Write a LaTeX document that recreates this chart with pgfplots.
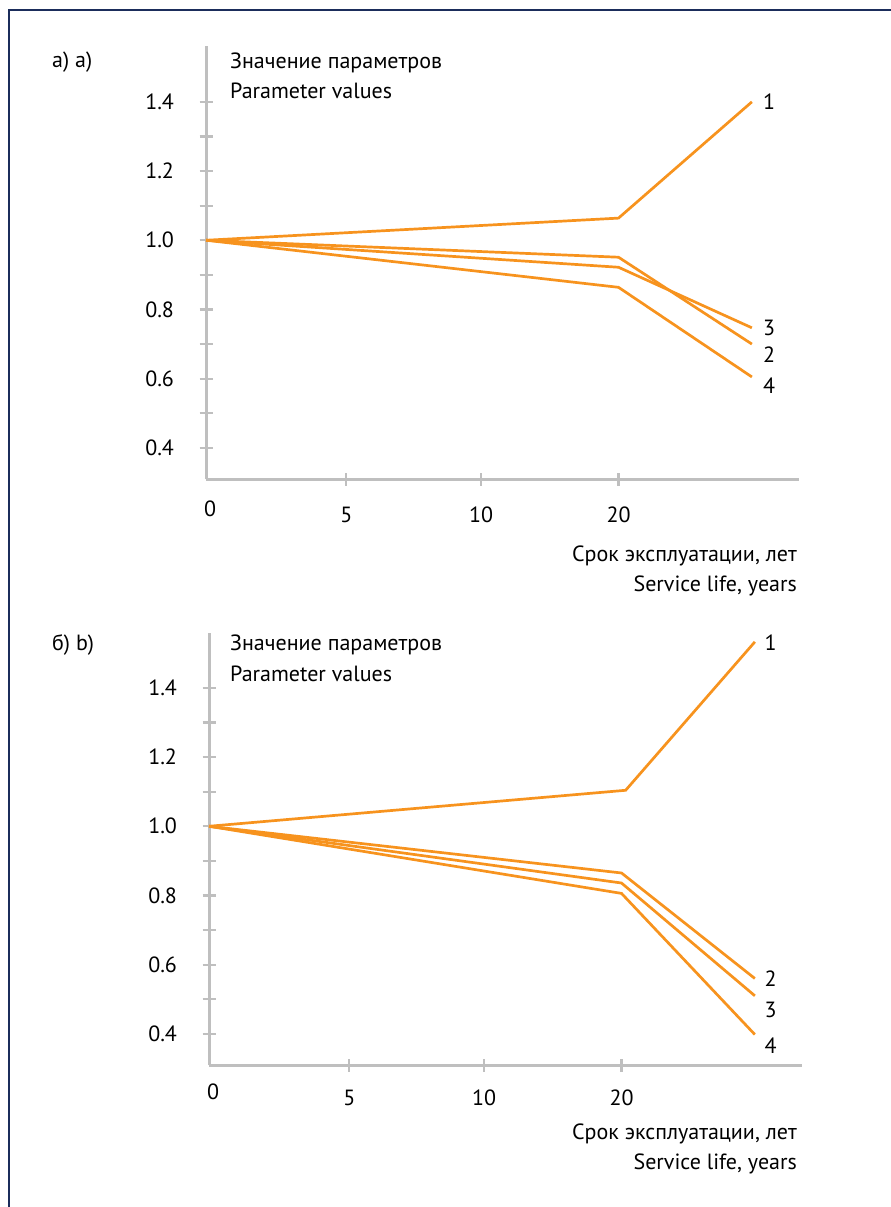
\documentclass[border=0pt]{standalone}
\usepackage{fontspec}
\setmainfont{PT Sans}
\usepackage{pgfplots}
\pgfplotsset{compat=1.18}
\definecolor{lineor}{HTML}{F7931E}
\definecolor{axgray}{HTML}{BFBFBF}
\definecolor{framecol}{HTML}{1B2D5B}
\tikzset{ser/.style={draw=lineor, line width=2.7pt, mark=none}}
\pgfplotsset{panel/.style={
  x=137.5pt, y=346pt, xmin=0, xmax=4.31, ymin=0.31, ymax=1.56,
  axis x line*=bottom, axis y line*=left,
  axis line style={axgray, line width=3pt, -},
  every tick/.style={axgray, line width=2.2pt},
  major tick length=13pt,
  tick align=center,
  xtick={1.02,2.0,3.0}, xticklabels={5,10,20},
  extra x ticks={0}, extra x tick labels={0},
  extra x tick style={major tick length=0pt, xticklabel style={xshift=4pt}},
  ytick={0.4,0.5,0.6,0.7,0.8,0.9,1.0,1.1,1.2,1.3,1.4},
  yticklabels={0.4,,0.6,,0.8,,1.0,,1.2,,1.4},
  /pgf/number format/assume math mode=true,
  tick label style={font=\fontsize{22}{26}\selectfont, text=black},
  yticklabel style={anchor=east, xshift=-22pt},
  clip=false,
}}
\begin{document}
\begin{tikzpicture}[x=1pt,y=1pt, font=\fontsize{22}{26}\selectfont]
\path[use as bounding box] (0,0) rectangle (891,-1207);
\draw[framecol, line width=1.6pt] (9,-1208) -- (9,-10) -- (892,-10);
% panel a
\begin{axis}[panel, at={(206pt,-479pt)}, anchor=south west,
  xticklabel style={anchor=north, yshift=-18pt}]
\addplot[ser] coordinates {(0,1.0) (3,1.064) (3.97,1.40)};
\addplot[ser] coordinates {(0,1.0) (3,0.951) (3.97,0.700)};
\addplot[ser] coordinates {(0,1.0) (3,0.922) (3.97,0.747)};
\addplot[ser] coordinates {(0,1.0) (3,0.864) (3.97,0.605)};
\node[anchor=west, inner sep=0] at (axis cs:4.05,1.40) {1};
\node[anchor=west, inner sep=0] at (axis cs:4.05,0.747) {3};
\node[anchor=west, inner sep=0] at (axis cs:4.05,0.669) {2};
\node[anchor=west, inner sep=0] at (axis cs:4.05,0.579) {4};
\end{axis}
\node[anchor=base west, inner sep=0] at (52,-67) {а) a)};
\node[anchor=base west, inner sep=0] at (230,-68) {Значение параметров};
\node[anchor=base west, inner sep=0] at (230,-99) {Parameter values};
\node[anchor=base east, inner sep=0] at (797,-561) {Срок эксплуатации, лет};
\node[anchor=base east, inner sep=0] at (797,-591) {Service life, years};
% panel b
\begin{axis}[panel, at={(209pt,-1065pt)}, anchor=south west,
  xticklabel style={anchor=north, yshift=-15pt}]
\addplot[ser] coordinates {(0,1.0) (3.03,1.104) (3.97,1.533)};
\addplot[ser] coordinates {(0,1.0) (3,0.865) (3.97,0.560)};
\addplot[ser] coordinates {(0,1.0) (3,0.836) (3.97,0.510)};
\addplot[ser] coordinates {(0,1.0) (3,0.806) (3.97,0.398)};
\node[anchor=west, inner sep=0] at (axis cs:4.04,1.53) {1};
\node[anchor=west, inner sep=0] at (axis cs:4.04,0.559) {2};
\node[anchor=west, inner sep=0] at (axis cs:4.04,0.469) {3};
\node[anchor=west, inner sep=0] at (axis cs:4.04,0.365) {4};
\end{axis}
\node[anchor=base west, inner sep=0] at (52,-650) {б) b)};
\node[anchor=base west, inner sep=0] at (230,-650) {Значение параметров};
\node[anchor=base west, inner sep=0] at (230,-681) {Parameter values};
\node[anchor=base east, inner sep=0] at (797,-1139) {Срок эксплуатации, лет};
\node[anchor=base east, inner sep=0] at (797,-1169) {Service life, years};
\end{tikzpicture}
\end{document}
